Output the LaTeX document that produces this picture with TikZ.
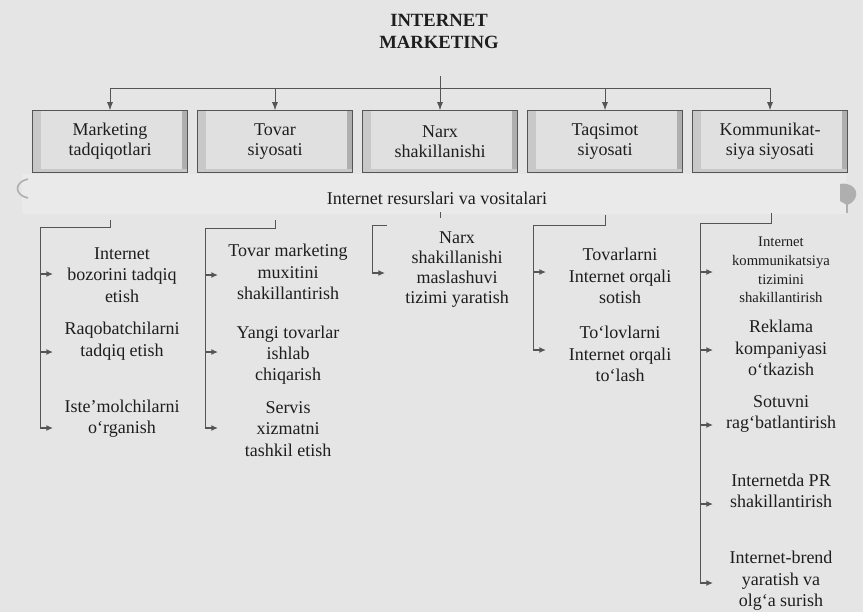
\documentclass[tikz,border=0pt]{standalone}
\usepackage{fontspec}
\setmainfont{Liberation Serif}
\usetikzlibrary{arrows.meta}

\definecolor{pagebg}{RGB}{229,229,229}
\definecolor{boxfill}{RGB}{224,224,224}
\definecolor{bevelL}{RGB}{200,200,200}
\definecolor{bevelR}{RGB}{175,175,175}
\definecolor{bannerfill}{RGB}{234,234,234}
\definecolor{linegray}{RGB}{85,85,85}
\definecolor{inkgray}{RGB}{30,30,30}

\tikzset{
  block/.style={draw=linegray, line width=0.5pt, fill=boxfill, minimum width=116pt, minimum height=46.5pt,
    inner sep=0pt, align=center, text=inkgray, font=\fontsize{13.5}{15}\selectfont,
    path picture={
      \fill[bevelL] (path picture bounding box.north west) rectangle ([xshift=6pt]path picture bounding box.south west);
      \fill[bevelR] (path picture bounding box.north east) rectangle ([xshift=-4pt]path picture bounding box.south east);
      \fill[bevelL] (path picture bounding box.south west) rectangle ([yshift=3pt]path picture bounding box.south east);
    }},
  itemtext/.style={align=center, inner sep=0.75pt, text=inkgray, font=\fontsize{13.5}{16}\selectfont},
  smalltext/.style={itemtext, font=\fontsize{11}{14}\selectfont},
  titletext/.style={itemtext, font=\bfseries\fontsize{14}{16.5}\selectfont},
  connector/.style={draw=linegray, line width=0.6pt},
  boxarrow/.style={connector, -{Latex[length=6pt,width=4.5pt]}},
  itemarrow/.style={connector, line width=1.1pt, -{Latex[length=5pt,width=4.5pt]}},
}

\begin{document}
\begin{tikzpicture}[x=0.75pt,y=0.75pt,yscale=-1,xscale=1]
    \useasboundingbox (0,0) rectangle (863,612);
    \fill[pagebg] (0,0) rectangle (863,612);

    %Shape: Banner
    \fill[bannerfill] (22,174) rectangle (846,214);
    \draw[bevelR, line width=1.2pt] (28,179) .. controls (14,182) and (14,195) .. (28,198);
    \fill[bevelR] (840,184) .. controls (857,181) and (863,199) .. (847,205) -- (840,201) -- cycle;
    \draw[bevelR, line width=1pt] (847,203) -- (847,213);
    % Text Node
    \node[itemtext] (res) at (437,198) {Internet resurslari va vositalari};

    % Text Node
    \node[titletext] (title) at (439,31) {INTERNET\\MARKETING};

    %Shape: Blocks
    \node[block] (mt) at (110,141.5) {Marketing\\tadqiqotlari};
    \node[block] (tv) at (275,141.5) {Tovar\\siyosati};
    \node[block] (nx) at (440,141.5) {Narx\\shakillanishi};
    \node[block] (tq) at (605,141.5) {Taqsimot\\siyosati};
    \node[block] (km) at (770,141.5) {Kommunikat-\\siya siyosati};

    %Shape: Bus
    \coordinate (hub) at (440,76);
    \coordinate (bus) at (440,88);
    \draw[connector] (hub) -- (bus);
    \draw[connector] (mt.north |- bus) -- (km.north |- bus);
    \draw[boxarrow] (mt.north |- bus) -- (mt.north);
    \draw[boxarrow] (tv.north |- bus) -- (tv.north);
    \draw[boxarrow] (nx.north |- bus) -- (nx.north);
    \draw[boxarrow] (tq.north |- bus) -- (tq.north);
    \draw[boxarrow] (km.north |- bus) -- (km.north);

    % Bracket: Marketing tadqiqotlari
    \coordinate (mt-s) at (110,220);
    \coordinate (mt-c) at (40,227);
    \coordinate (mt-a1) at (40,274);
    \coordinate (mt-a2) at (40,352);
    \coordinate (mt-a3) at (40,428);
    \draw[connector] (mt-s) |- (mt-c) -- (mt-a3);
    \draw[itemarrow] (mt-a1) -- ++(13,0);
    \draw[itemarrow] (mt-a2) -- ++(13,0);
    \draw[itemarrow] (mt-a3) -- ++(13,0);
    % Text Node
    \node[itemtext] (mt1) at (122,275) {Internet\\bozorini tadqiq\\etish};
    \node[itemtext] (mt2) at (122,341) {Raqobatchilarni\\tadqiq etish};
    \node[itemtext] (mt3) at (122,419) {Iste’molchilarni\\o‘rganish};

    % Bracket: Tovar siyosati
    \coordinate (tv-s) at (275,220);
    \coordinate (tv-c) at (205,228);
    \coordinate (tv-a1) at (205,275);
    \coordinate (tv-a2) at (205,352);
    \coordinate (tv-a3) at (205,428);
    \draw[connector] (tv-s) |- (tv-c) -- (tv-a3);
    \draw[itemarrow] (tv-a1) -- ++(13,0);
    \draw[itemarrow] (tv-a2) -- ++(13,0);
    \draw[itemarrow] (tv-a3) -- ++(13,0);
    % Text Node
    \node[itemtext] (tv1) at (288,272) {Tovar marketing\\muxitini\\shakillantirish};
    \node[itemtext] (tv2) at (288,355) {Yangi tovarlar\\ishlab\\chiqarish};
    \node[itemtext] (tv3) at (288,429) {Servis\\xizmatni\\tashkil etish};

    % Bracket: Narx shakillanishi
    \coordinate (nx-s) at (440,212);
    \coordinate (nx-c) at (372,225);
    \coordinate (nx-a1) at (372,273);
    \draw[connector] (nx-s) -- ++(0,6);
    \draw[connector] ([xshift=11]nx-c) -- (nx-c) -- (nx-a1);
    \draw[itemarrow] (nx-a1) -- ++(13,0);
    % Text Node
    \node[itemtext, font=\fontsize{13.5}{15}\selectfont] (nx1) at (457,270) {Narx\\shakillanishi\\maslashuvi\\tizimi yaratish};

    % Bracket: Taqsimot siyosati
    \coordinate (tq-s) at (605,215);
    \coordinate (tq-c) at (533,225);
    \coordinate (tq-a1) at (533,272);
    \coordinate (tq-a2) at (533,350);
    \draw[connector] (tq-s) |- (tq-c) -- (tq-a2);
    \draw[itemarrow] (tq-a1) -- ++(13,0);
    \draw[itemarrow] (tq-a2) -- ++(13,0);
    % Text Node
    \node[itemtext] (tq1) at (620,276) {Tovarlarni\\Internet orqali\\sotish};
    \node[itemtext] (tq2) at (620,354) {To‘lovlarni\\Internet orqali\\to‘lash};

    % Bracket: Kommunikatsiya siyosati
    \coordinate (km-s) at (771,213);
    \coordinate (km-c) at (700,223);
    \coordinate (km-a1) at (700,272);
    \coordinate (km-a2) at (700,350);
    \coordinate (km-a3) at (700,425);
    \coordinate (km-a4) at (700,504);
    \coordinate (km-a5) at (700,583);
    \draw[connector] (km-s) |- (km-c) -- (km-a5);
    \draw[itemarrow] (km-a1) -- ++(13,0);
    \draw[itemarrow] (km-a2) -- ++(13,0);
    \draw[itemarrow] (km-a3) -- ++(13,0);
    \draw[itemarrow] (km-a4) -- ++(13,0);
    \draw[itemarrow] (km-a5) -- ++(13,0);
    % Text Node
    \node[smalltext] (km1) at (781,270) {Internet\\kommunikatsiya\\tizimini\\shakillantirish};
    \node[itemtext] (km2) at (781,348) {Reklama\\kompaniyasi\\o‘tkazish};
    \node[itemtext] (km3) at (781,414) {Sotuvni\\rag‘batlantirish};
    \node[itemtext] (km4) at (781,491) {Internetda PR\\shakillantirish};
    \node[itemtext] (km5) at (781,581) {Internet-brend\\yaratish va\\olg‘a surish};

\end{tikzpicture}
\end{document}
